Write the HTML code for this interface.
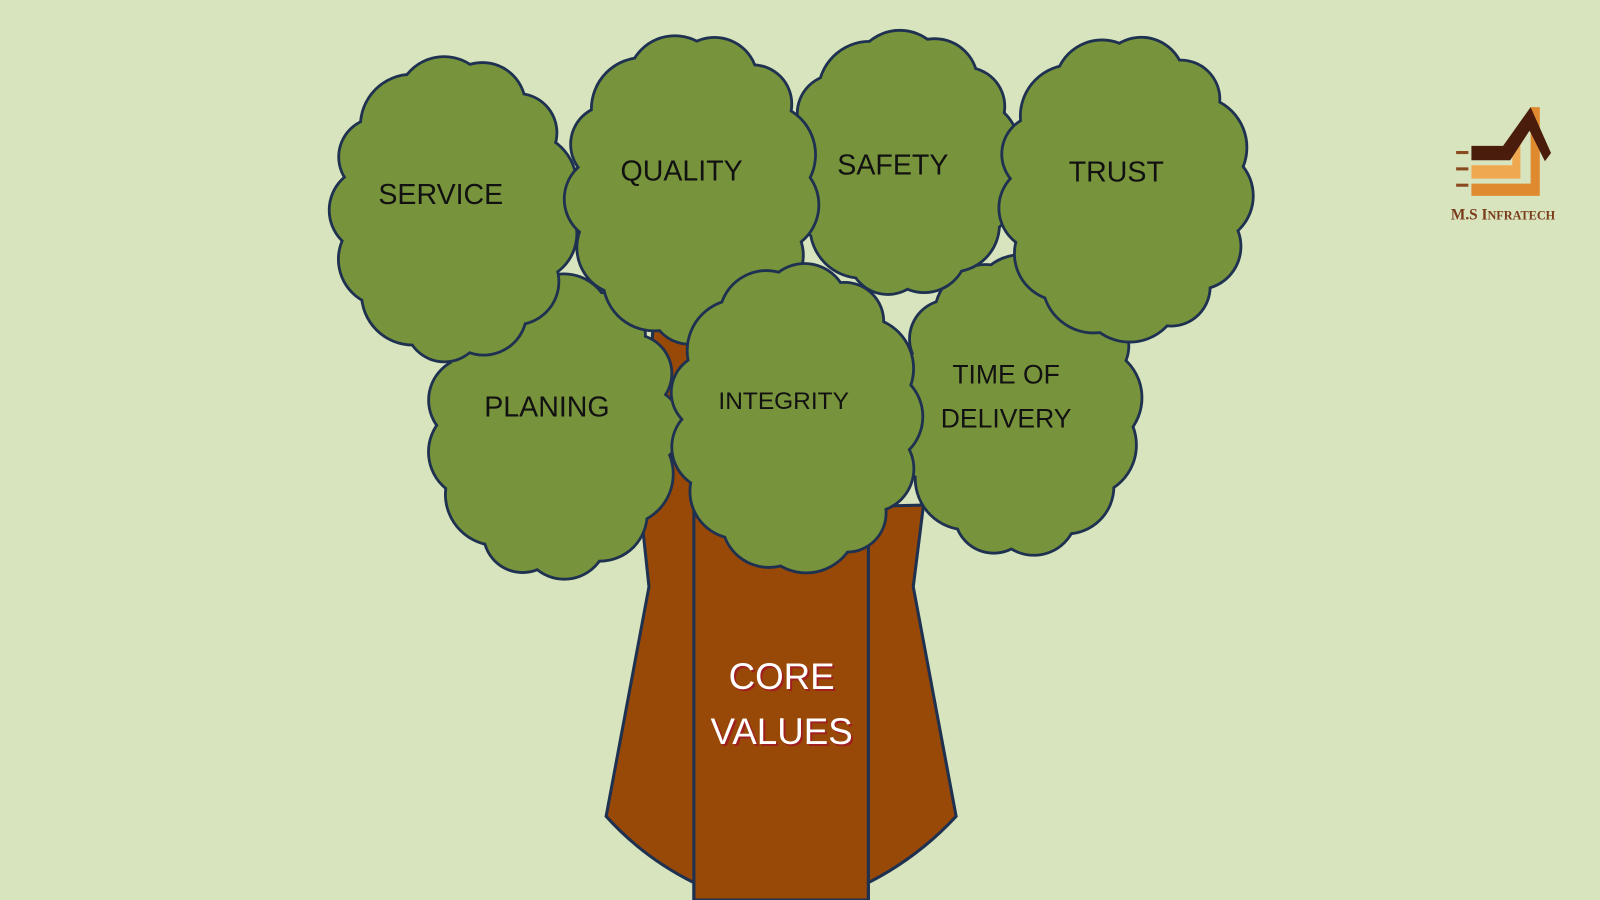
<!DOCTYPE html>
<html><head><meta charset="utf-8"><style>
html,body{margin:0;padding:0;background:#d8e4bd;}
svg{display:block}
.lbl{font-family:"Liberation Sans",sans-serif;font-size:28px;fill:#111;text-anchor:middle}
</style></head><body>
<svg id="s" width="1600" height="900" viewBox="0 0 1568 882" preserveAspectRatio="none" xmlns="http://www.w3.org/2000/svg">
<rect width="1568" height="882" fill="#d8e4bd"/>
<g id="trunk" stroke="#1f3150" stroke-width="3" fill="#984807">
<path d="M640,320 L690,320 L690,500 L905,495 L895,575 L937,800 Q900,840 851,865 L851,882 L680,882 L680,865 Q630,840 594,800 L636,575 L628,500 Z"/>
<line x1="680" y1="500" x2="680" y2="882"/>
<line x1="851" y1="500" x2="851" y2="882"/>
</g>
<g id="clouds"></g>
<g>
<text class="lbl" x="432" y="200">SERVICE</text>
<text class="lbl" x="668" y="177">QUALITY</text>
<text class="lbl" x="875" y="171">SAFETY</text>
<text class="lbl" x="1094" y="178">TRUST</text>
<text class="lbl" x="536" y="408">PLANING</text>
<text class="lbl" x="768" y="401" style="font-size:24px">INTEGRITY</text>
<text class="lbl" x="986" y="376" style="font-size:26px">TIME OF</text>
<text class="lbl" x="986" y="419" style="font-size:26px">DELIVERY</text>
</g>
<g font-family="Liberation Sans,sans-serif" font-size="36" text-anchor="middle">
<text x="768" y="677" fill="#a02020">CORE</text>
<text x="766" y="675" fill="#fff">CORE</text>
<text x="768" y="731" fill="#a02020">VALUES</text>
<text x="766" y="729" fill="#fff">VALUES</text>
</g>
<g>
<rect x="1427" y="148" width="12" height="3" fill="#8a4a20"/>
<rect x="1427" y="164" width="12" height="3" fill="#8a4a20"/>
<rect x="1427" y="180" width="12" height="3" fill="#8a4a20"/>
<path d="M1500,105 L1509,105 L1509,192 L1442,192 L1442,180 L1500,180 Z" fill="#e08a30"/>
<path d="M1482,135 L1490,128 L1490,175 L1442,175 L1442,162 L1482,162 Z" fill="#f0a850"/>
<path d="M1442,143 L1473,143 L1500,105 L1520,150 L1514,158 L1499,128 L1480,157 L1442,157 Z" fill="#4a1c0c"/>
<text x="1473" y="215" text-anchor="middle" font-family="Liberation Serif,serif" font-weight="bold" font-size="15" fill="#7a3b1a">M.S I<tspan font-size="12">NFRATECH</tspan></text>
</g>
</svg>
<script>
var clouds=[[543,418,125,150],[997,398,122,148],[885,160,115,130],[445,205,122,150],[678,185,125,152],[1103,185,125,150],[780,410,124,152]];
var g=document.getElementById('clouds'),ns='http://www.w3.org/2000/svg';
function circ(cx,cy,r,st){var c=document.createElementNS(ns,'ellipse');c.setAttribute('cx',cx);c.setAttribute('cy',cy);c.setAttribute('rx',r[0]);c.setAttribute('ry',r[1]);c.setAttribute('fill','#77933c');if(st){c.setAttribute('stroke','#1f3150');c.setAttribute('stroke-width','3.5');}return c;}
clouds.forEach(function(k,ci){
 var cx=k[0],cy=k[1],rx=k[2],ry=k[3],N=13,pts=[];
 for(var i=0;i<N;i++){var a=i/N*2*Math.PI+ci*0.4;var rr=38+((i*7+ci*3)%4)*4;pts.push([cx+(rx-rr)*Math.cos(a),cy+(ry-rr)*Math.sin(a),rr]);}
 var grp=document.createElementNS(ns,'g');
 pts.forEach(function(p){grp.appendChild(circ(p[0],p[1],[p[2],p[2]],true));});
 pts.forEach(function(p){grp.appendChild(circ(p[0],p[1],[p[2]-1,p[2]-1],false));});
 grp.appendChild(circ(cx,cy,[rx-40,ry-40],false));
 g.appendChild(grp);
});
</script>
</body></html>
